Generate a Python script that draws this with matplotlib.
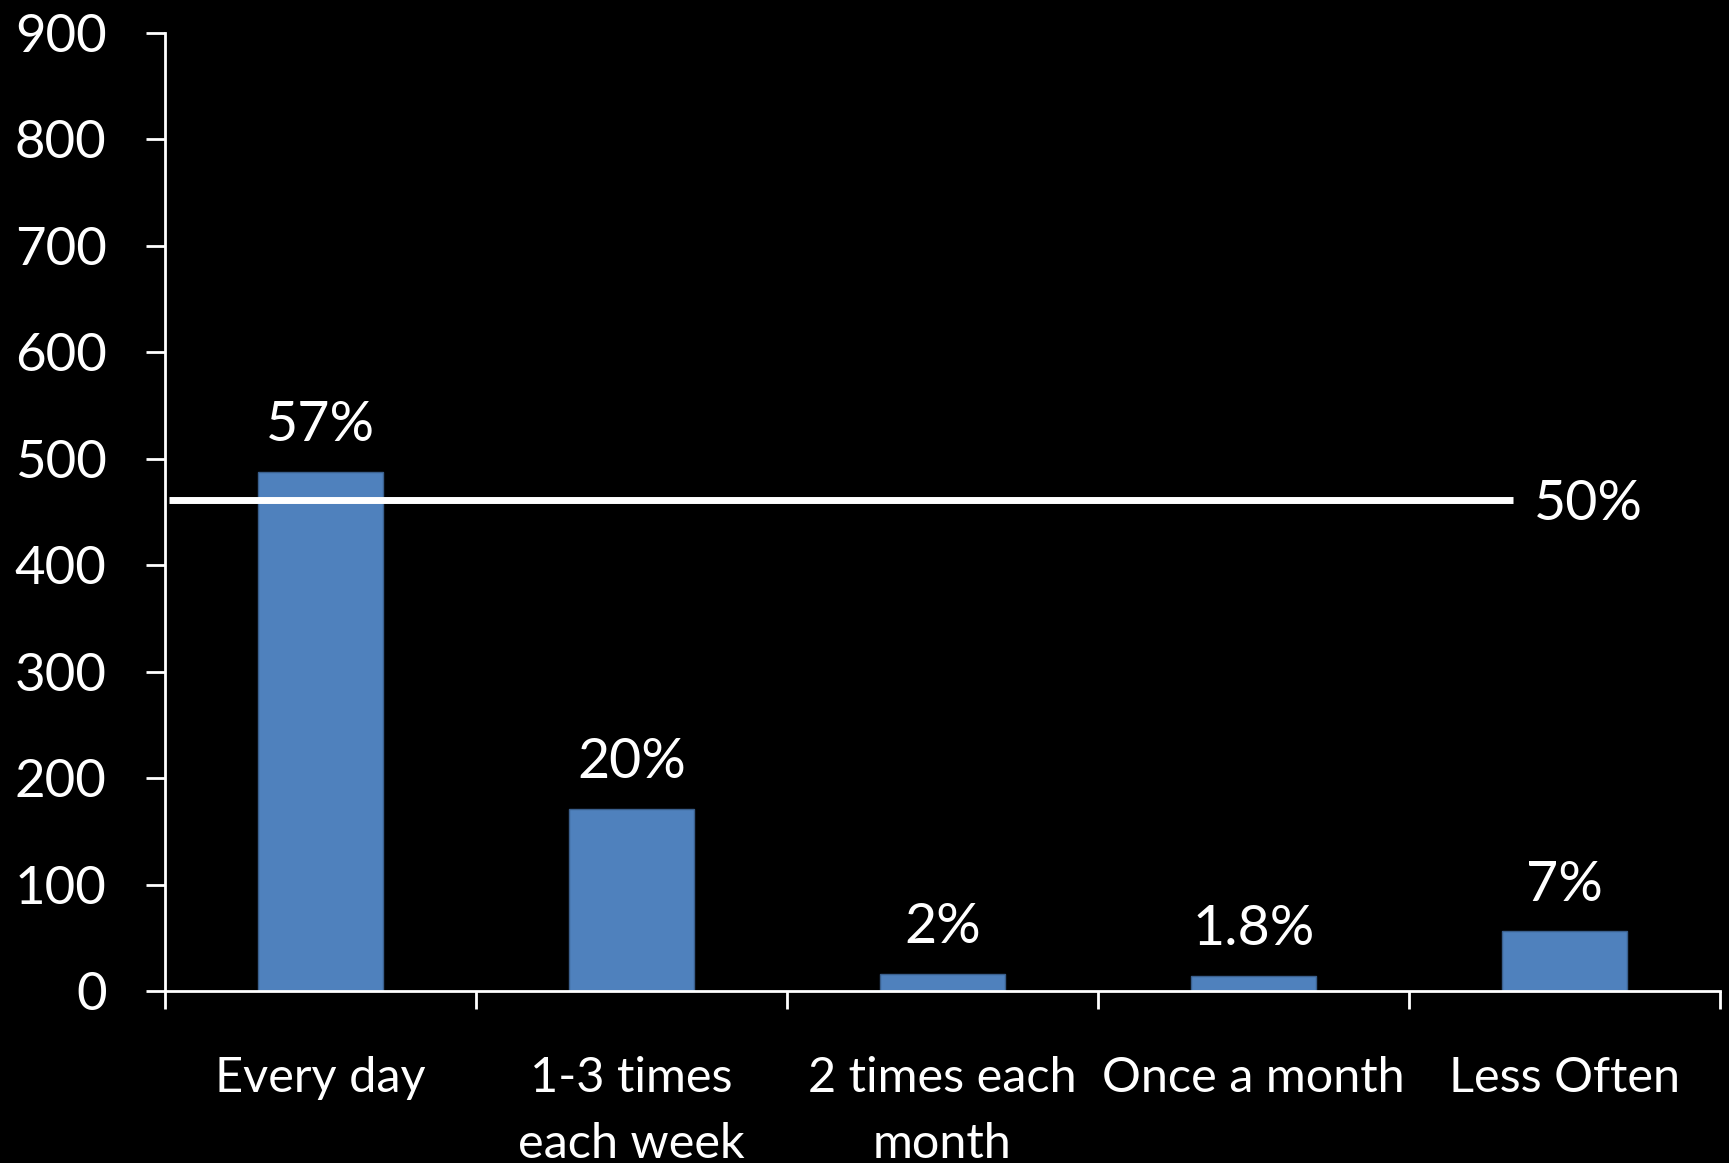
import matplotlib.pyplot as plt
import numpy as np

categories = ['Every day', '1-3 times\neach week', '2 times each\nmonth', 'Once a month', 'Less Often']
counts = [488, 171, 16, 14, 56]
pct_labels = ['57%', '20%', '2%', '1.8%', '7%']
ref_value = 461
ref_label = '50%'
yticks = [0, 100, 200, 300, 400, 500, 600, 700, 800, 900]

plt.rcParams['font.family'] = ['Lato', 'DejaVu Sans']

fig = plt.figure(figsize=(17.29, 11.63), dpi=100, facecolor='black')
ax = fig.add_axes([0.0954, 0.1479, 0.8994, 0.8237], facecolor='black')

x = np.arange(len(categories))
bars = ax.bar(x, counts, width=0.4, color='#4F81BD', edgecolor='#3A5F8C', linewidth=1)

for b, lab in zip(bars, pct_labels):
    ax.annotate(lab, (b.get_x() + b.get_width() / 2, b.get_height()),
                xytext=(0, 15), textcoords='offset points',
                ha='center', va='bottom', color='white', fontsize=40)

# reference line
ax.plot([-0.487, 3.834], [ref_value, ref_value], color='white', lw=5, solid_capstyle='butt')
ax.annotate(ref_label, (3.9, ref_value), xytext=(0, -3), textcoords='offset points',
            color='white', fontsize=40, va='center', ha='left')

ax.set_xlim(-0.5, len(categories) - 0.5)
ax.set_ylim(0, 900)
ax.set_yticks(yticks)
ax.tick_params(axis='y', colors='white', labelsize=38, length=14, width=2, pad=28)

# boundary tick marks, labels centred under bars
ax.set_xticks(np.arange(len(categories) + 1) - 0.5)
ax.set_xticklabels([])
ax.tick_params(axis='x', which='major', colors='white', length=13, width=2)
ax.set_xticks(x, minor=True)
ax.set_xticklabels(categories, minor=True, fontsize=35, color='white', linespacing=1.6)
ax.tick_params(axis='x', which='minor', length=0, pad=47)

for s in ['top', 'right']:
    ax.spines[s].set_visible(False)
for s in ['left', 'bottom']:
    ax.spines[s].set_color('white')
    ax.spines[s].set_linewidth(2)

fig.savefig('out.png', dpi=100, facecolor='black')
